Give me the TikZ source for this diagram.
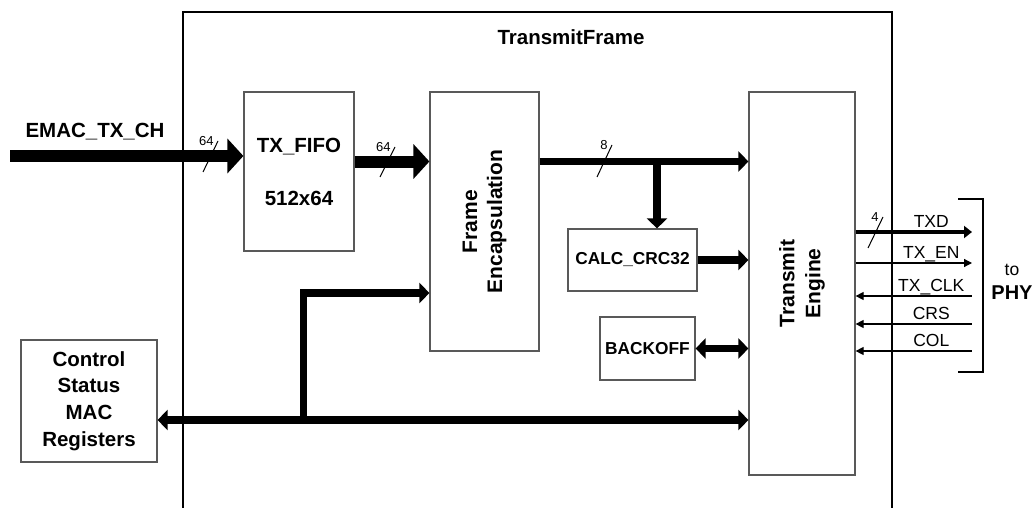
\documentclass[tikz,border=0pt]{standalone}
\usepackage{fontspec}
\setmainfont{Liberation Sans}
\usetikzlibrary{arrows.meta}

\begin{document}
\begin{tikzpicture}[x=1pt,y=-1pt,
  box/.style={draw=black!65,line width=1.2pt,inner sep=0pt},
  lab/.style={font=\fontsize{20.5}{26.6}\selectfont\bfseries,align=center},
  sub/.style={font=\fontsize{17.3}{20}\selectfont\bfseries,align=center},
  sig/.style={font=\fontsize{17.5}{20}\selectfont,anchor=base,yshift=5pt},
  wd/.style={font=\fontsize{13}{15}\selectfont,anchor=east,inner sep=4pt},
  heavy/.style={line width=12pt,-{Triangle[length=16pt,width=34pt]}},
  mid/.style={line width=7.5pt,>={Triangle[length=10pt,width=20pt]}},
  bus4/.style={line width=4pt,>={Triangle[length=8pt,width=12pt]}},
  wire/.style={line width=1.2pt,>={Triangle[length=8pt,width=8pt]}},
  tick/.style={line width=1pt}]
\useasboundingbox (0,0) rectangle (1035,508);
% outer frame, open at the bottom
\draw[line width=1.2pt] (183,520) |- (892,12) -- (892,520);
\node[lab,anchor=base] (title) at (571,45) {TransmitFrame};

\node[box,minimum width=110pt,minimum height=159pt,lab,font=\fontsize{20.5}{53}\selectfont\bfseries] (fifo) at (299,171.5) {TX\_FIFO\\512x64};
\node[box,minimum width=109pt,minimum height=259pt] (fenc) at (484.5,221.5) {};
\node[lab,rotate=90,font=\fontsize{21}{25}\selectfont\bfseries] (fenctxt) at (fenc.center) {Frame\\Encapsulation};
\node[box,minimum width=106pt,minimum height=383pt] (te) at (802,283.5) {};
\node[lab,rotate=90,font=\fontsize{21}{26}\selectfont\bfseries] (tetxt) at (te.center) {Transmit\\Engine};
\node[box,minimum width=129pt,minimum height=62pt,sub] (crc) at (632.5,260) {CALC\_CRC32};
\node[box,minimum width=95pt,minimum height=63pt,sub] (boff) at (647.5,348.5) {BACKOFF};
\node[box,minimum width=136pt,minimum height=122pt,lab] (csr) at (89,401) {Control\\Status\\MAC\\Registers};

\node[lab,anchor=base] (emac) at (95,137) {EMAC\_TX\_CH};
\node[lab,font=\fontsize{20}{24}\selectfont\bfseries] (phy) at (1012,282) {{\mdseries\fontsize{17.5}{24}\selectfont to}\\PHY};

\coordinate (rin) at (10,156);
\coordinate (r1) at (0,161.5);
\coordinate (tap) at (657,161.5);
\coordinate (r2) at (0,293);
\coordinate (rbus) at (0,420);
\coordinate (jn) at (303.5,420);
\coordinate (txd) at (972,232);
\coordinate (txen) at (972,263);
\coordinate (txclk) at (972,296);
\coordinate (crs) at (972,324);
\coordinate (col) at (972,351);

% data path
\draw[heavy] (rin) -- (rin -| fifo.west);
\draw[heavy] (fifo.east |- r1) -- (fenc.west |- r1);
\draw[mid,->] (fenc.east |- r1) -- (te.west |- r1);
\draw[mid,->] (tap) -- (crc.north -| tap);
\draw[mid,->] (crc.east) -- (crc.east -| te.west);
\draw[mid,<->] (boff.east) -- (boff.east -| te.west);
% register bus
\draw[mid,<->] (csr.east |- rbus) -- (te.west |- rbus);
\draw[mid,->] (jn) |- (fenc.west |- r2);

% bus widths
\draw[tick] (203,172) -- ++(15,-31) node[wd] (w1) {64};
\draw[tick] (380,177) -- ++(15,-30) node[wd] (w2) {64};
\draw[tick] (597,177) -- ++(15,-32) node[wd] (w3) {8};
\draw[tick] (868,248) -- ++(15,-31) node[wd] (w4) {4};

% PHY signals
\draw[bus4,->] (te.east |- txd) -- node[sig,pos=.65] (ltxd) {TXD} (txd);
\draw[wire,->] (te.east |- txen) -- node[sig,pos=.65] (ltxen) {TX\_EN} (txen);
\draw[wire,<-] (te.east |- txclk) -- node[sig,pos=.65] (ltxclk) {TX\_CLK} (txclk);
\draw[wire,<-] (te.east |- crs) -- node[sig,pos=.65] (lcrs) {CRS} (crs);
\draw[wire,<-] (te.east |- col) -- node[sig,pos=.65] (lcol) {COL} (col);
\draw[line width=1.2pt] (958,199) -| (983,372) -- (958,372);
\end{tikzpicture}
\end{document}
